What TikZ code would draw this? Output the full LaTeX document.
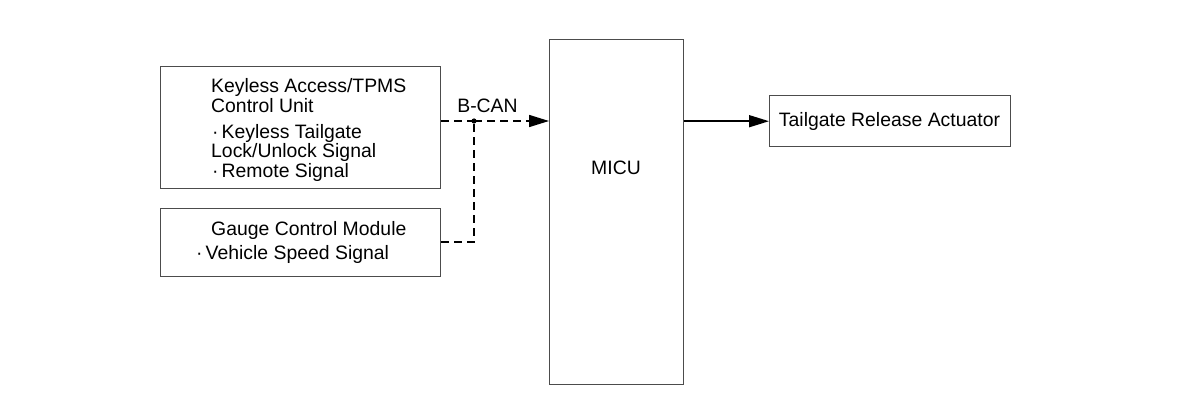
\documentclass[tikz,border=0pt]{standalone}
\usepackage{fontspec}
\setmainfont{Liberation Sans}
\usetikzlibrary{arrows.meta}
\begin{document}
\begin{tikzpicture}[x=1pt,y=-1pt,
  box/.style={draw=black!70,line width=1.4pt,inner sep=0pt,anchor=north west},
  txt/.style={anchor=base west,inner sep=0pt,font=\fontsize{19.4}{22}\selectfont},
  bus/.style={line width=1.6pt,dash pattern=on 8pt off 5pt},
  tip/.style={-{Triangle[length=20pt,width=12pt]}}]
\useasboundingbox (0,0) rectangle (1199,414);
\node[box,minimum width=280pt,minimum height=122pt] (kl) at (160,66) {};
\node[box,minimum width=280pt,minimum height=68pt] (gc) at (160,208) {};
\node[box,minimum width=134pt,minimum height=345pt] (micu) at (549,39) {};
\node[box,minimum width=241pt,minimum height=51pt] (ta) at (769,95) {};
% texts
\node[txt] (k1) at (211,93) {Keyless Access/TPMS};
\node[txt] (k2) at (211,112.5) {Control Unit};
\node[txt] (k3) at (211,139) {\kern1pt·\kern3pt Keyless Tailgate};
\node[txt] (k4) at (211,158) {Lock/Unlock Signal};
\node[txt] (k5) at (211,178) {\kern1pt·\kern3pt Remote Signal};
\node[txt] (g1) at (211,236) {Gauge Control Module};
\node[txt] (g2) at (196,259) {·\kern3pt Vehicle Speed Signal};
\node[txt,anchor=center] (mt) at (616,168) {MICU};
\node[txt,anchor=center] (tt) at (889.5,121.5) {Tailgate Release Actuator};
\node[txt,anchor=center] (bc) at (487.5,106) {B-CAN};
% connectors
\coordinate (j) at (474,121);
\coordinate (c) at (474,242);
\draw[bus] (kl.east |- j) -- (j);
\draw[bus,tip] (j) -- (micu.west |- j);
\draw[bus] (gc.east |- c) -- (c) -- (j);
\fill (j) circle (2.6pt);
\draw[line width=1.6pt,tip] (micu.east |- ta.west) -- (ta.west);
\end{tikzpicture}
\end{document}
